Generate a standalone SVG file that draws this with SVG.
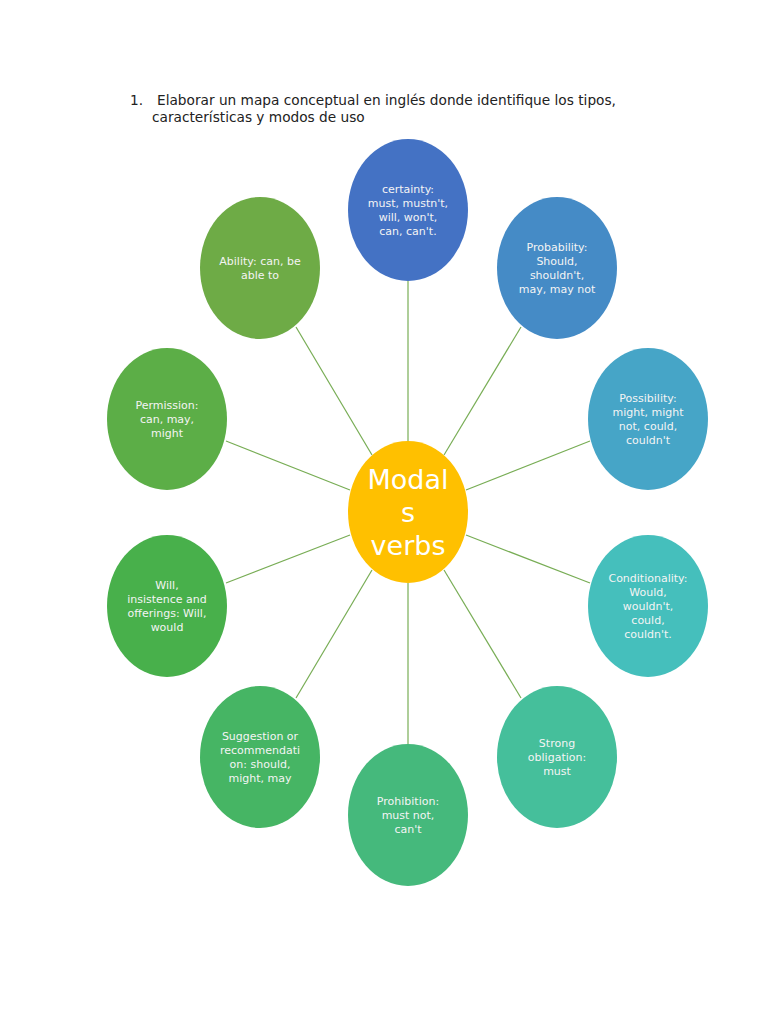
<svg xmlns="http://www.w3.org/2000/svg" width="768" height="1024" viewBox="0 0 768 1024">
<style>
.t{font-family:"DejaVu Sans",sans-serif;font-size:11px;fill:#f4f4f4;text-anchor:middle}
.title{font-family:"DejaVu Sans",sans-serif;font-size:13.7px;fill:#222}
.c{stroke:#78ad55;stroke-width:1.2;fill:none}
.big{font-family:"DejaVu Sans",sans-serif;font-size:27px;fill:#fff;text-anchor:middle}
</style>
<rect width="768" height="1024" fill="#fff"/>
<g id="title">
<text class="title" x="130" y="105">1.</text>
<text class="title" x="157" y="105">Elaborar un mapa conceptual en inglés donde identifique los tipos,</text>
<text class="title" x="152" y="122">características y modos de uso</text>
</g>
<g id="connectors">
<line class="c" x1="408" y1="441" x2="408" y2="281"/>
<line class="c" x1="444" y1="455" x2="521" y2="327"/>
<line class="c" x1="466" y1="490" x2="590" y2="441"/>
<line class="c" x1="466" y1="535" x2="590" y2="583"/>
<line class="c" x1="444" y1="570" x2="521" y2="698"/>
<line class="c" x1="408" y1="583" x2="408" y2="744"/>
<line class="c" x1="372" y1="570" x2="296" y2="698"/>
<line class="c" x1="350" y1="535" x2="226" y2="583"/>
<line class="c" x1="350" y1="490" x2="226" y2="441"/>
<line class="c" x1="372" y1="455" x2="296" y2="327"/>
</g>
<g id="center">
<ellipse cx="408" cy="512" rx="60" ry="71" fill="#ffc000"/>
<text class="big" x="408" y="489">Modal</text>
<text class="big" x="408" y="522">s</text>
<text class="big" x="408" y="555">verbs</text>
</g>
<g id="certainty">
<ellipse cx="408" cy="210" rx="60" ry="71" fill="#4472c4"/>
<text class="t" x="408" y="193">certainty:</text>
<text class="t" x="408" y="207">must, mustn't,</text>
<text class="t" x="408" y="221">will, won't,</text>
<text class="t" x="408" y="235">can, can't.</text>
</g>
<g id="probability">
<ellipse cx="557" cy="268" rx="60" ry="71" fill="#458bc6"/>
<text class="t" x="557" y="251">Probability:</text>
<text class="t" x="557" y="265">Should,</text>
<text class="t" x="557" y="279">shouldn't,</text>
<text class="t" x="557" y="293">may, may not</text>
</g>
<g id="possibility">
<ellipse cx="648" cy="419" rx="60" ry="71" fill="#46a5c7"/>
<text class="t" x="648" y="402">Possibility:</text>
<text class="t" x="648" y="416">might, might</text>
<text class="t" x="648" y="430">not, could,</text>
<text class="t" x="648" y="444">couldn't</text>
</g>
<g id="conditionality">
<ellipse cx="648" cy="606" rx="60" ry="71" fill="#45bfbc"/>
<text class="t" x="648" y="582">Conditionality:</text>
<text class="t" x="648" y="596">Would,</text>
<text class="t" x="648" y="610">wouldn't,</text>
<text class="t" x="648" y="624">could,</text>
<text class="t" x="648" y="638">couldn't.</text>
</g>
<g id="strong-obligation">
<ellipse cx="557" cy="757" rx="60" ry="71" fill="#45bf9b"/>
<text class="t" x="557" y="747">Strong</text>
<text class="t" x="557" y="761">obligation:</text>
<text class="t" x="557" y="775">must</text>
</g>
<g id="prohibition">
<ellipse cx="408" cy="815" rx="60" ry="71" fill="#45b97c"/>
<text class="t" x="408" y="805">Prohibition:</text>
<text class="t" x="408" y="819">must not,</text>
<text class="t" x="408" y="833">can't</text>
</g>
<g id="suggestion">
<ellipse cx="260" cy="757" rx="60" ry="71" fill="#46b564"/>
<text class="t" x="260" y="740">Suggestion or</text>
<text class="t" x="260" y="754">recommendati</text>
<text class="t" x="260" y="768">on: should,</text>
<text class="t" x="260" y="782">might, may</text>
</g>
<g id="will">
<ellipse cx="167" cy="606" rx="60" ry="71" fill="#48b04b"/>
<text class="t" x="167" y="589">Will,</text>
<text class="t" x="167" y="603">insistence and</text>
<text class="t" x="167" y="617">offerings: Will,</text>
<text class="t" x="167" y="631">would</text>
</g>
<g id="permission">
<ellipse cx="167" cy="419" rx="60" ry="71" fill="#5cae47"/>
<text class="t" x="167" y="409">Permission:</text>
<text class="t" x="167" y="423">can, may,</text>
<text class="t" x="167" y="437">might</text>
</g>
<g id="ability">
<ellipse cx="260" cy="268" rx="60" ry="71" fill="#6eab46"/>
<text class="t" x="260" y="265">Ability: can, be</text>
<text class="t" x="260" y="279">able to</text>
</g>
</svg>
